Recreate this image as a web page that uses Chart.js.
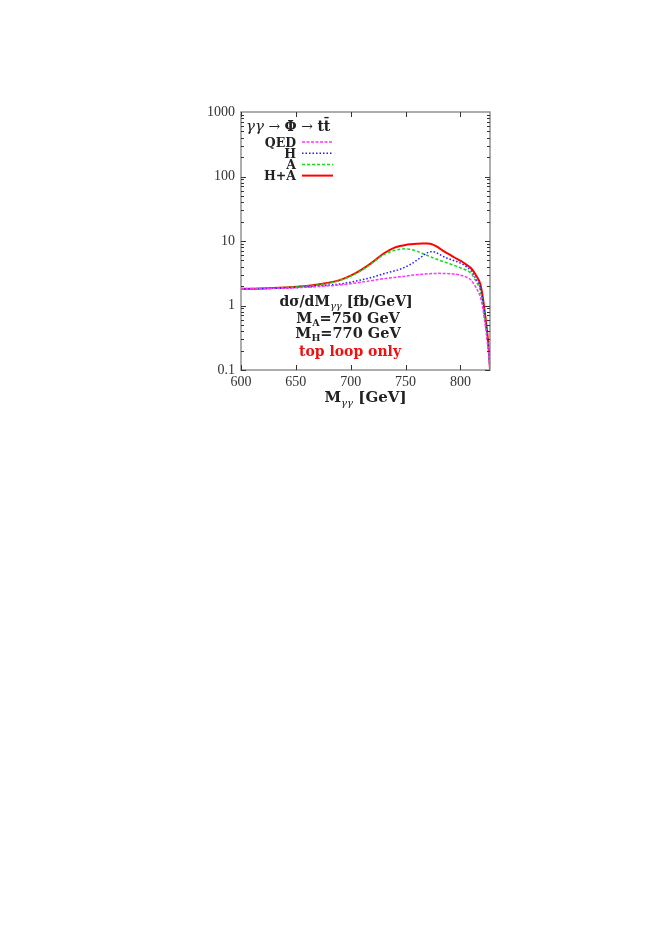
<!DOCTYPE html>
<html>
<head>
<meta charset="utf-8">
<script src="https://cdn.jsdelivr.net/npm/chart.js@4.4.1/dist/chart.umd.min.js"></script>
<style>
  html, body { margin: 0; padding: 0; background: #fff; }
  canvas { display: block; }
</style>
</head>
<body>
<canvas id="chart" width="662" height="936"></canvas>
<script>
// invariant mass M_gg [GeV]
const mass = [600, 620, 640, 660, 680, 690, 700, 710, 720, 730, 740, 745, 750, 755, 760, 765,
  770, 775, 780, 785, 790, 795, 800, 805, 810, 815, 818, 820, 822, 824, 826, 827];
// dsigma/dM [fb/GeV]
const qed = [1.82, 1.83, 1.86, 1.92, 2.02, 2.08, 2.18, 2.3, 2.45, 2.6, 2.72, 2.78, 2.85, 2.93, 3.0, 3.05,
  3.1, 3.13, 3.15, 3.14, 3.12, 3.06, 2.96, 2.78, 2.45, 1.8, 1.4, 1.0, 0.6, 0.33, 0.16, 0.1];
const onlyH = [1.82, 1.83, 1.87, 1.94, 2.07, 2.15, 2.3, 2.5, 2.75, 3.1, 3.45, 3.65, 3.95, 4.4, 5.0, 5.75,
  6.6, 6.85, 6.35, 5.7, 5.25, 4.9, 4.55, 4.05, 3.4, 2.45, 1.95, 1.3, 0.75, 0.4, 0.19, 0.1];
const onlyA = [1.82, 1.84, 1.9, 1.99, 2.22, 2.44, 2.85, 3.5, 4.6, 6.1, 7.15, 7.45, 7.55, 7.4, 7.0, 6.45,
  5.95, 5.5, 5.1, 4.75, 4.45, 4.15, 3.85, 3.55, 3.1, 2.25, 1.75, 1.2, 0.7, 0.38, 0.18, 0.1];
const bothHA = [1.82, 1.84, 1.9, 2.0, 2.25, 2.47, 2.9, 3.6, 4.7, 6.4, 7.9, 8.35, 8.7, 8.9, 9.05, 9.15,
  9.15, 8.8, 7.9, 6.9, 6.2, 5.5, 4.95, 4.35, 3.75, 2.8, 2.2, 1.5, 0.85, 0.45, 0.2, 0.1];

const seriesNames = ['QED', 'H', 'A', 'H+A'];
const xTicks = [600, 650, 700, 750, 800];
const yTicks = [0.1, 1, 10, 100, 1000];

const pts = ys => mass.map((m, i) => ({ x: m, y: ys[i] }));

const SERIF = '"Liberation Serif", "DejaVu Serif", serif';
const BOLD = 'bold 14px "DejaVu Serif", serif';
const BOLD_L = 'bold 14.5px "DejaVu Serif", serif';

// draw a line of text made of runs (font, dy for sub/superscripts)
function drawRuns(ctx, runs, x, y, align) {
  let total = 0;
  runs.forEach(r => { ctx.font = r.font; total += ctx.measureText(r.t).width; });
  let cx = align === 'center' ? x - total / 2 : align === 'right' ? x - total : x;
  ctx.textBaseline = 'alphabetic';
  ctx.textAlign = 'left';
  runs.forEach(r => {
    ctx.font = r.font;
    ctx.fillStyle = r.color || '#222';
    ctx.fillText(r.t, cx, y + (r.dy || 0));
    cx += ctx.measureText(r.t).width;
  });
}

const decorations = {
  id: 'decorations',
  afterDraw(chart) {
    const { ctx, chartArea: a, scales: { x, y } } = chart;
    ctx.save();
    // frame
    ctx.strokeStyle = '#8a8a8a';
    ctx.lineWidth = 1.4;
    ctx.strokeRect(a.left, a.top, a.right - a.left, a.bottom - a.top);

    // inward ticks on all sides
    ctx.strokeStyle = '#333';
    ctx.lineWidth = 1;
    ctx.beginPath();
    xTicks.forEach(v => {
      const px = Math.round(x.getPixelForValue(v)) + 0.5;
      ctx.moveTo(px, a.bottom); ctx.lineTo(px, a.bottom - 5);
      ctx.moveTo(px, a.top); ctx.lineTo(px, a.top + 5);
    });
    for (let d = 0.1; d < 1000; d *= 10) {
      for (let k = 1; k < 10; k++) {
        const py = Math.round(y.getPixelForValue(d * k)) + 0.5;
        const len = k === 1 ? 5 : 3;
        ctx.moveTo(a.left, py); ctx.lineTo(a.left + len, py);
        ctx.moveTo(a.right, py); ctx.lineTo(a.right - len, py);
      }
    }
    ctx.stroke();

    // legend (text right-aligned, sample to the right)
    const legX = a.left + 55;
    const sx0 = a.left + 61, sx1 = a.left + 92;
    drawRuns(ctx, [
      { t: 'γγ', font: 'italic 15px "DejaVu Serif", serif' },
      { t: ' → ', font: '14px "DejaVu Serif", serif' },
      { t: 'Φ', font: BOLD },
      { t: ' → ', font: '14px "DejaVu Serif", serif' },
      { t: 'tt\u0304', font: BOLD }
    ], a.left + 5, a.top + 19, 'left');
    chart.data.datasets.forEach((ds, i) => {
      const ly = a.top + 30 + i * 11.2;
      drawRuns(ctx, [{ t: ds.label, font: 'bold 12.5px "DejaVu Serif", serif' }], legX, ly + 4.5, 'right');
      ctx.strokeStyle = ds.borderColor;
      ctx.lineWidth = ds.borderWidth;
      ctx.setLineDash(ds.borderDash || []);
      ctx.beginPath();
      ctx.moveTo(sx0, ly); ctx.lineTo(sx1, ly);
      ctx.stroke();
      ctx.setLineDash([]);
    });

    // annotation block inside the plot
    const cx = 348;
    const sub = 'italic 10px "DejaVu Serif", serif';
    drawRuns(ctx, [
      { t: 'dσ/dM', font: BOLD },
      { t: 'γγ', font: sub, dy: 3 },
      { t: ' [fb/GeV]', font: BOLD }
    ], cx - 2, y.getPixelForValue(1), 'center');
    drawRuns(ctx, [
      { t: 'M', font: BOLD_L },
      { t: 'A', font: 'bold 9.5px "DejaVu Serif", serif', dy: 3 },
      { t: '=750 GeV', font: BOLD_L }
    ], cx, 323, 'center');
    drawRuns(ctx, [
      { t: 'M', font: BOLD_L },
      { t: 'H', font: 'bold 9.5px "DejaVu Serif", serif', dy: 3 },
      { t: '=770 GeV', font: BOLD_L }
    ], cx, 338, 'center');
    drawRuns(ctx, [
      { t: 'top loop only', font: BOLD, color: '#ee1111' }
    ], cx + 2, 356, 'center');

    // x-axis title
    drawRuns(ctx, [
      { t: 'M', font: 'bold 15px "DejaVu Serif", serif' },
      { t: 'γγ', font: 'italic 10px "DejaVu Serif", serif', dy: 4 },
      { t: ' [GeV]', font: 'bold 15px "DejaVu Serif", serif' }
    ], (a.left + a.right) / 2, 402, 'center');
    ctx.restore();
  }
};

new Chart(document.getElementById('chart'), {
  type: 'line',
  data: {
    datasets: [
      { label: seriesNames[0], data: pts(qed), borderColor: '#ff33ff', borderWidth: 1.5, borderDash: [3, 1.5] },
      { label: seriesNames[1], data: pts(onlyH), borderColor: '#1a1aff', borderWidth: 1.5, borderDash: [1.5, 2] },
      { label: seriesNames[2], data: pts(onlyA), borderColor: '#11dd11', borderWidth: 1.5, borderDash: [3, 2] },
      { label: seriesNames[3], data: pts(bothHA), borderColor: '#ff0000', borderWidth: 2 }
    ]
  },
  options: {
    responsive: false,
    animation: false,
    events: [],
    layout: { padding: { left: 0, top: 112, right: 172, bottom: 526 } },
    elements: {
      point: { radius: 0 },
      line: { cubicInterpolationMode: 'monotone', fill: false }
    },
    plugins: { legend: { display: false }, tooltip: { enabled: false } },
    scales: {
      x: {
        type: 'linear',
        min: 600,
        max: 827,
        afterFit: s => { s.height = 40; },
        afterBuildTicks: s => { s.ticks = xTicks.map(v => ({ value: v })); },
        grid: { display: false, drawTicks: false },
        border: { display: false },
        ticks: { padding: 4, color: '#333', font: { family: SERIF, size: 14 }, maxRotation: 0 }
      },
      y: {
        type: 'logarithmic',
        min: 0.1,
        max: 1000,
        afterFit: s => { s.width = 241; },
        afterBuildTicks: s => { s.ticks = yTicks.map(v => ({ value: v })); },
        grid: { display: false, drawTicks: false },
        border: { display: false },
        ticks: {
          padding: 6,
          color: '#333',
          font: { family: SERIF, size: 14 },
          callback: v => String(v)
        }
      }
    }
  },
  plugins: [decorations]
});
</script>
</body>
</html>
